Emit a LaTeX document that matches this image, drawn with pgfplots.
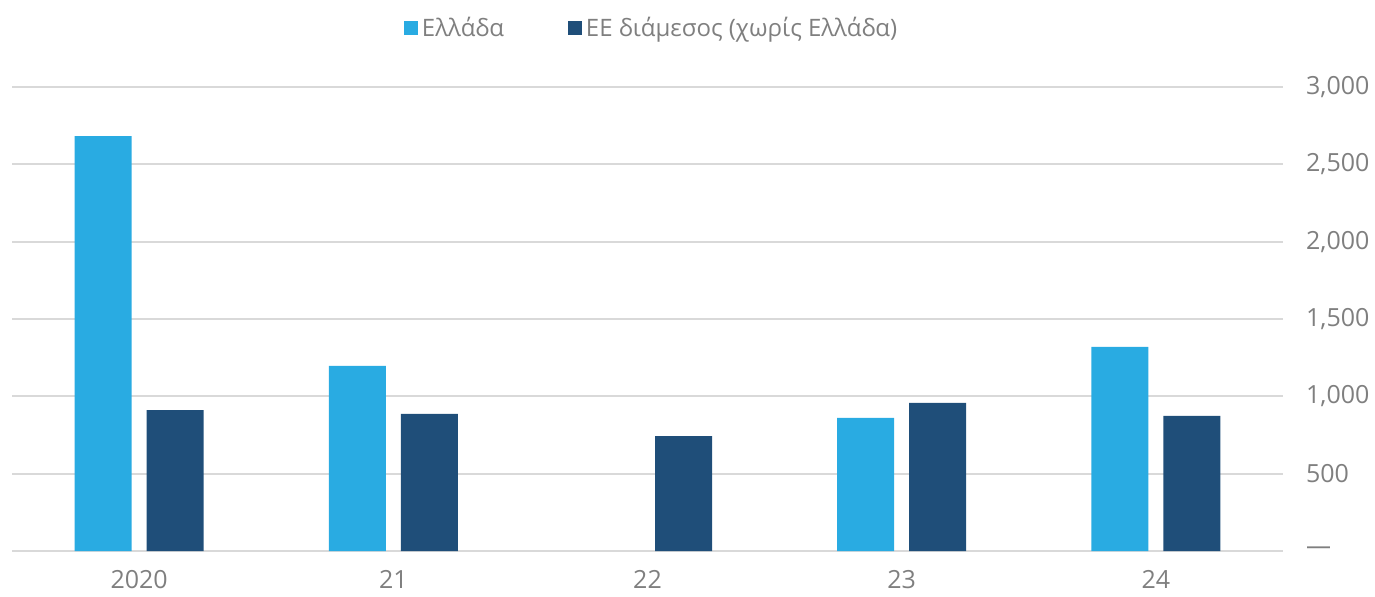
\documentclass[border=0pt]{standalone}
\usepackage{fontspec}
\setmainfont{Open Sans}
\usepackage{pgfplots}
\pgfplotsset{compat=1.18}
\definecolor{lightbar}{HTML}{29ABE2}
\definecolor{darkbar}{HTML}{1F4E79}
\definecolor{gridgray}{HTML}{D9D9D9}
\definecolor{txtgray}{HTML}{7F7F7F}
\begin{document}
\begin{tikzpicture}
\useasboundingbox (0,0) rectangle (687.5pt,298pt);
\begin{axis}[
    at={(6pt,22.5pt)}, anchor=south west,
    width=635.5pt, height=232pt,
    scale only axis,
    ybar, bar width=28.5pt,
    xmin=-0.5, xmax=4.5,
    ymin=0, ymax=3000,
    xtick={0,1,2,3,4},
    xticklabels={2020,21,22,23,24},
    ytick={0,500,1000,1500,2000,2500,3000},
    yticklabels={{—},{500},{1,000},{1,500},{2,000},{2,500},{3,000}},
    axis y line*=right,
    axis x line*=bottom,
    y axis line style={draw=none},
    x axis line style={draw=none},
    major tick length=0pt,
    ymajorgrids,
    grid style={gridgray, line width=1pt},
    yticklabel style={anchor=west, xshift=8pt, font=\fontsize{12.5}{14}\selectfont, text=txtgray},
    xticklabel style={yshift=-6pt, font=\fontsize{12.5}{14}\selectfont, text=txtgray},
    legend style={at={(0.504,1.127)}, anchor=center, draw=none, fill=none,
        legend columns=2, font=\fontsize{12}{14}\selectfont, text=txtgray,
        /tikz/every even column/.append style={column sep=30pt}},
    legend image code/.code={\fill[#1] (0pt,-3.5pt) rectangle (7pt,3.5pt);},
    clip=false,
]
\addplot[fill=lightbar, draw=none, bar shift=-18pt] coordinates {(0,2683) (1,1197) (3,860) (4,1319)};
\addlegendentry{Ελλάδα}
\addplot[fill=darkbar, draw=none, bar shift=18pt] coordinates {(0,911) (1,886) (2,743) (3,957) (4,873)};
\addlegendentry{ΕΕ διάμεσος (χωρίς Ελλάδα)}
\end{axis}
\end{tikzpicture}
\end{document}
